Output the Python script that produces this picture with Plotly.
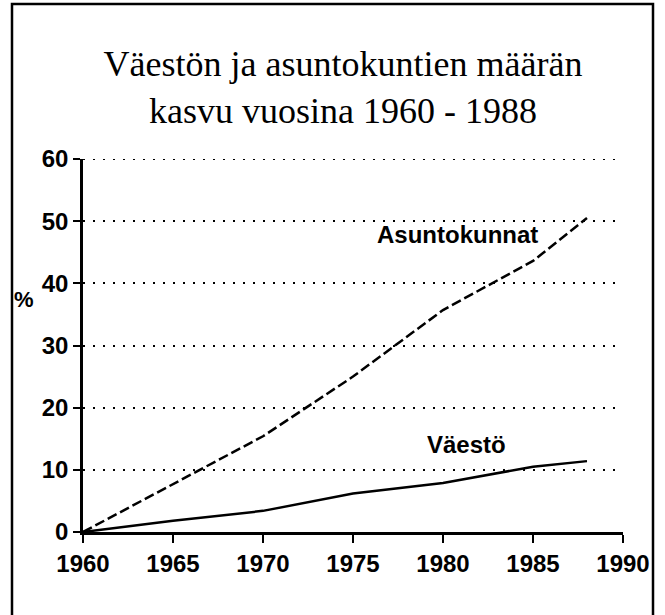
import plotly.graph_objects as go

years = [1960, 1965, 1970, 1975, 1980, 1985, 1988]
asuntokunnat = [0, 7.7, 15.4, 25.0, 35.7, 43.6, 50.5]
vaesto = [0, 1.8, 3.4, 6.2, 7.9, 10.5, 11.4]

x_ticks = [1960, 1965, 1970, 1975, 1980, 1985, 1990]
y_ticks = [0, 10, 20, 30, 40, 50, 60]

title_text = "Väestön ja asuntokuntien määrän<br>kasvu vuosina 1960 - 1988"

SANS = "Liberation Sans, Arial, sans-serif"
SERIF = "Liberation Serif, Times New Roman, serif"

fig = go.Figure()
fig.add_trace(go.Scatter(x=years, y=asuntokunnat, mode="lines", name="Asuntokunnat",
                         line=dict(color="black", width=2.5, dash="10px,4px")))
fig.add_trace(go.Scatter(x=years, y=vaesto, mode="lines", name="Väestö",
                         line=dict(color="black", width=2.5)))

fig.update_layout(
    width=665, height=615,
    margin=dict(l=83, r=42, t=159, b=83),
    paper_bgcolor="white", plot_bgcolor="white",
    showlegend=False,
    font=dict(family=SANS, size=24, color="black", weight="bold"),
    title=dict(text=title_text, x=343/665, xanchor="center", xref="container",
               y=1 - 76/615, yanchor="top", yref="container",
               font=dict(family=SERIF, size=36, color="black", weight="normal")),
)
fig.update_xaxes(range=[1960, 1990], tickvals=x_ticks, ticktext=[str(v) for v in x_ticks],
                 showline=True, linecolor="black", linewidth=2.5, ticks="outside", ticklen=8,
                 tickwidth=2, tickcolor="black", showgrid=False, zeroline=False,
                 tickfont=dict(family=SANS, size=24, weight="bold"))
fig.update_yaxes(range=[0, 60], tickvals=y_ticks, ticktext=[str(v) for v in y_ticks],
                 showline=True, linecolor="black", linewidth=2.5, ticks="outside", ticklen=7,
                 tickwidth=2, tickcolor="black", showgrid=True, gridcolor="black", gridwidth=2,
                 griddash="2px,8px", zeroline=False,
                 tickfont=dict(family=SANS, size=24, weight="bold"))

# top gridline (plotly omits the gridline at the range edge)
fig.add_shape(type="line", xref="paper", yref="y", x0=0, x1=1, y0=y_ticks[-1], y1=y_ticks[-1],
              line=dict(color="black", width=2, dash="2px,8px"), layer="below")

fig.add_annotation(text="Asuntokunnat", x=1980.8, y=47.8, xref="x", yref="y", showarrow=False,
                   xanchor="center", font=dict(family=SANS, size=24, weight="bold"))
fig.add_annotation(text="Väestö", x=1981.3, y=14.0, xref="x", yref="y", showarrow=False,
                   xanchor="center", font=dict(family=SANS, size=24, weight="bold"))
fig.add_annotation(text="%", x=(24 - 83) / 540, y=(532 - 299) / 373, xref="paper", yref="paper",
                   showarrow=False, xanchor="center", yanchor="middle",
                   font=dict(family=SANS, size=22, weight="bold"))

fig.add_shape(type="rect", xref="paper", yref="paper",
              x0=(12 - 83) / 540, x1=(653 - 83) / 540,
              y0=(532 - 625) / 373, y1=(532 - 4) / 373,
              line=dict(color="black", width=2.5), fillcolor="rgba(0,0,0,0)")

fig.write_html("out.html", config={"displayModeBar": False},
               post_script="document.body.style.margin='0px';")
